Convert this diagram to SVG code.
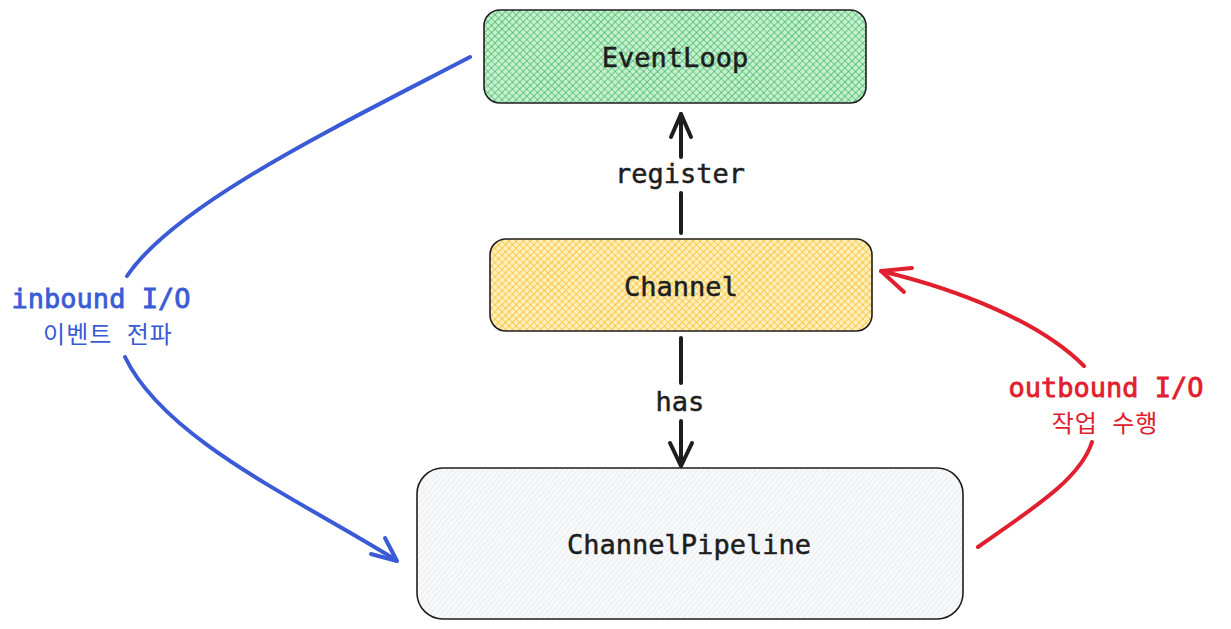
<svg xmlns="http://www.w3.org/2000/svg" width="1231" height="629" viewBox="0 0 1231 629">
<defs>
<pattern id="hGreen" width="5" height="5" patternUnits="userSpaceOnUse" patternTransform="rotate(45)">
<rect width="5" height="5" fill="#c6efd0"/>
<path d="M0 0H5M0 0V5" stroke="#25b04a" stroke-width="1.2"/>
</pattern>
<pattern id="hYellow" width="5" height="5" patternUnits="userSpaceOnUse" patternTransform="rotate(45)">
<rect width="5" height="5" fill="#ffefbf"/>
<path d="M0 0H5M0 0V5" stroke="#f5b400" stroke-width="1.2"/>
</pattern>
<pattern id="hGrey" width="4" height="4" patternUnits="userSpaceOnUse" patternTransform="rotate(40)">
<rect width="4" height="4" fill="#f8f9fa"/>
<path d="M0 0V4" stroke="#dcdfe3" stroke-width="1"/>
</pattern>
<style>
.box{stroke:#1e1e1e;stroke-width:1.6}
.lbl{font-family:"DejaVu Sans Mono","Liberation Mono",monospace;font-size:27px;fill:#1e1e1e;stroke:#1e1e1e;stroke-width:0.5;text-anchor:middle}
.ko{font-family:"Noto Sans CJK KR",sans-serif;font-size:24px;text-anchor:middle;word-spacing:8px;letter-spacing:1px}
.conn{fill:none;stroke-width:4;stroke-linecap:round;stroke-linejoin:round}
</style>
</defs>
<rect width="1231" height="629" fill="#ffffff"/>
<g id="connectors">
<g id="register">
<path class="conn" stroke="#1e1e1e" d="M681 233V193M681 157V114"/>
<path class="conn" stroke="#1e1e1e" d="M671 137L681 114L691 137"/>
<text class="lbl" x="680" y="183">register</text>
</g>
<g id="has">
<path class="conn" stroke="#1e1e1e" d="M681 338V383M681 421V465"/>
<path class="conn" stroke="#1e1e1e" d="M670 443L681 466L692 443"/>
<text class="lbl" x="680" y="411">has</text>
</g>
<g id="inbound">
<path class="conn" stroke="#3b5bd6" stroke-width="3.5" d="M470 57C330 130 175 205 127 276M125 357C165 440 300 500 396 560"/>
<path class="conn" stroke="#3b5bd6" stroke-width="3.5" d="M371 554L397 561L385 538"/>
<text class="lbl" x="101" y="308" style="fill:#3b5bd6;stroke:#3b5bd6;stroke-width:0.8">inbound I/O</text>
<text class="ko" x="108" y="343" fill="#3b5bd6">이벤트 전파</text>
</g>
<g id="outbound">
<path class="conn" stroke="#e0202e" stroke-width="3.5" d="M978 547C1030 510 1080 480 1092 442M1084 366C1040 322 960 290 881 271"/>
<path class="conn" stroke="#e0202e" stroke-width="3.5" d="M904 292L881 271L912 268"/>
<text class="lbl" x="1106" y="397" style="fill:#e0202e;stroke:#e0202e;stroke-width:0.8">outbound I/O</text>
<text class="ko" x="1105" y="432" fill="#e0202e">작업 수행</text>
</g>
</g>
<g id="eventloop">
<rect class="box" x="484" y="10" width="382" height="93" rx="16" fill="url(#hGreen)"/>
<text class="lbl" x="675" y="67">EventLoop</text>
</g>
<g id="channel">
<rect class="box" x="490" y="239" width="382" height="92" rx="16" fill="url(#hYellow)"/>
<text class="lbl" x="681" y="296">Channel</text>
</g>
<g id="pipeline">
<rect class="box" x="417" y="468" width="546" height="151" rx="26" fill="url(#hGrey)"/>
<text class="lbl" x="689" y="554">ChannelPipeline</text>
</g>
</svg>
